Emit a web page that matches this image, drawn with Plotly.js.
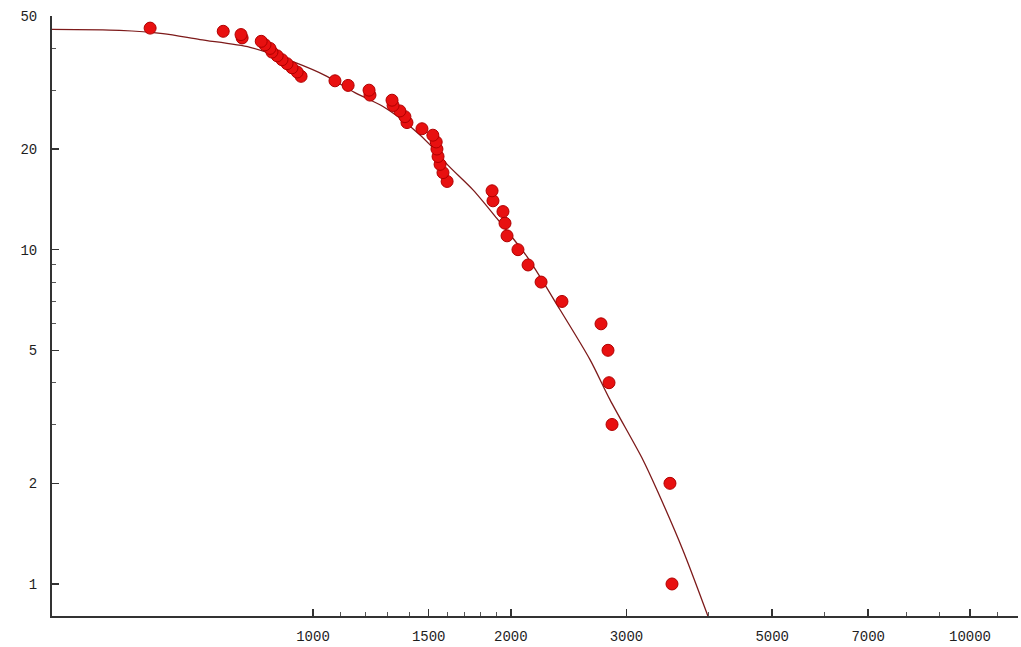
<!DOCTYPE html>
<html>
<head>
<meta charset="utf-8">
<script src="https://cdn.plot.ly/plotly-3.0.1.min.js"></script>
<style>
  html, body { margin: 0; padding: 0; background: #ffffff; }
  #chart { width: 1021px; height: 647px; }
</style>
</head>
<body>
<div id="chart"></div>
<script>
// Observed events: energy value and cumulative count (number of events at or above that energy)
const energies = [3519, 3494, 2852, 2822, 2812, 2744, 2393, 2224, 2125, 2051,
                  1974, 1960, 1946, 1879, 1873, 1600, 1577, 1561, 1550, 1544,
                  1540, 1522, 1465, 1390, 1380, 1356, 1324, 1319, 1221, 1217,
                  1131, 1080, 959, 946, 929, 913, 897, 882, 866, 860,
                  845, 834, 780, 777, 730, 565];
const counts = [1, 2, 3, 4, 5, 6, 7, 8, 9, 10,
                11, 12, 13, 14, 15, 16, 17, 18, 19, 20,
                21, 22, 23, 24, 25, 26, 27, 28, 29, 30,
                31, 32, 33, 34, 35, 36, 37, 38, 39, 40,
                41, 42, 43, 44, 45, 46];

// Fitted cumulative distribution
const fitEnergy = [400, 508, 591, 673, 802, 932, 1050, 1158, 1278, 1405,
                   1522, 1600, 1752, 1905, 2117, 2377, 2640, 2831, 3179, 3339,
                   3658, 3993];
const fitCount = [45.6, 45.3, 44.3, 42.5, 40.3, 36.5, 33.0, 29.5, 26.8, 23.4,
                  20.2, 18.0, 15.1, 12.4, 9.53, 6.61, 4.69, 3.56, 2.35, 1.91,
                  1.26, 0.80];

// Axis ticks
const xTicks = [1000, 1500, 2000, 3000, 5000, 7000, 10000];
const xMinorTicks = [1100, 1200, 1300, 1400, 1600, 1700, 1800, 1900, 4000, 6000, 8000, 9000, 11000];
const yTicks = [1, 2, 5, 10, 20, 50];
const yMinorTicks = [3, 4, 6, 7, 8, 9, 30, 40];

const tickFont = { family: 'Liberation Mono, DejaVu Sans Mono, monospace', size: 14, color: '#1e1e1e' };

const traces = [
  {
    x: fitEnergy,
    y: fitCount,
    type: 'scatter',
    mode: 'lines',
    line: { color: '#7d1a1a', width: 1.3, shape: 'spline', smoothing: 0.8 },
    hoverinfo: 'skip',
    showlegend: false
  },
  {
    x: energies,
    y: counts,
    type: 'scatter',
    mode: 'markers',
    marker: { color: '#e81010', size: 12, line: { color: '#b00000', width: 1 } },
    showlegend: false
  }
];

const layout = {
  width: 1021,
  height: 647,
  margin: { l: 52, r: 3, t: 16, b: 31 },
  paper_bgcolor: '#ffffff',
  plot_bgcolor: '#ffffff',
  showlegend: false,
  xaxis: {
    type: 'log',
    range: [2.6027, 4.0731],
    tickmode: 'array',
    tickvals: xTicks,
    ticktext: xTicks.map(String),
    ticks: 'inside',
    ticklen: 7,
    tickwidth: 1.5,
    tickcolor: '#333333',
    minor: { tickmode: 'array', tickvals: xMinorTicks, ticks: 'inside', ticklen: 4, tickwidth: 1, tickcolor: '#555555', showgrid: false },
    showline: true,
    linecolor: '#333333',
    linewidth: 2,
    showgrid: false,
    zeroline: false,
    tickfont: tickFont,
    ticklabelstandoff: 6
  },
  yaxis: {
    type: 'log',
    range: [-0.0958, 1.699],
    tickmode: 'array',
    tickvals: yTicks,
    ticktext: yTicks.map(String),
    ticks: 'inside',
    ticklen: 7,
    tickwidth: 1.5,
    tickcolor: '#333333',
    minor: { tickmode: 'array', tickvals: yMinorTicks, ticks: 'inside', ticklen: 4, tickwidth: 1, tickcolor: '#555555', showgrid: false },
    showline: true,
    linecolor: '#333333',
    linewidth: 2,
    showgrid: false,
    zeroline: false,
    tickfont: tickFont,
    ticklabelstandoff: 10
  }
};

Plotly.newPlot('chart', traces, layout, { displayModeBar: false, staticPlot: true });
</script>
</body>
</html>
